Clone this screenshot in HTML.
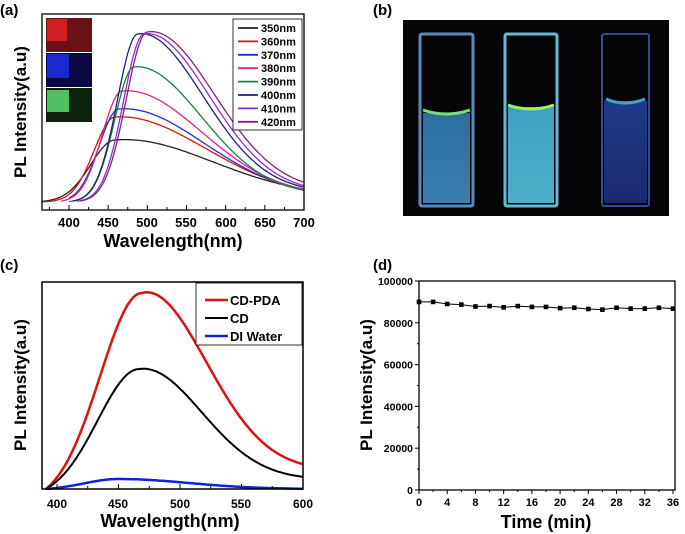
<!DOCTYPE html>
<html><head><meta charset="utf-8"><style>
html,body{margin:0;padding:0;background:#fff}
svg{display:block;font-family:"Liberation Sans",sans-serif;font-weight:bold}
</style></head><body>
<svg id="s" width="685" height="534" xmlns="http://www.w3.org/2000/svg">
<defs>
<linearGradient id="cv1" x1="0" y1="0" x2="0" y2="1"><stop offset="0" stop-color="#2c6f9e"/><stop offset="1" stop-color="#3a7fb0"/></linearGradient>
<linearGradient id="cv2" x1="0" y1="0" x2="0" y2="1"><stop offset="0" stop-color="#3ea0c0"/><stop offset="1" stop-color="#4fb0c8"/></linearGradient>
<linearGradient id="cv3" x1="0" y1="0" x2="0" y2="1"><stop offset="0" stop-color="#1d3a8a"/><stop offset="1" stop-color="#1a2a70"/></linearGradient>
</defs>
<text x="0" y="15" font-size="15">(a)</text>
<text x="373" y="15" font-size="15">(b)</text>
<text x="0" y="270" font-size="15">(c)</text>
<text x="373" y="270" font-size="15">(d)</text>

<g id="ga"></g>
<rect x="42" y="14" width="262" height="196" fill="none" stroke="#000" stroke-width="1.3"/>
<rect x="46" y="18" width="46" height="34" fill="#6a1018"/>
<rect x="47" y="19" width="20" height="22" fill="#d02020"/>
<rect x="46" y="53" width="46" height="34" fill="#0a0a40"/>
<rect x="47" y="54" width="22" height="24" fill="#1a2ad0"/>
<rect x="46" y="88" width="46" height="34" fill="#0c200c"/>
<rect x="47" y="90" width="22" height="22" fill="#50c060"/>
<rect x="233" y="19" width="69" height="111" fill="#fff" stroke="#000" stroke-width="0.8"/>
<g id="leg" font-size="11"></g>
<g font-size="13" text-anchor="middle">
<text x="69" y="227">400</text><text x="108" y="227">450</text><text x="147" y="227">500</text><text x="186" y="227">550</text><text x="226" y="227">600</text><text x="265" y="227">650</text><text x="304" y="227">700</text>
</g>
<text x="173" y="247" font-size="18" text-anchor="middle">Wavelength(nm)</text>
<text transform="translate(26,112) rotate(-90)" font-size="17" text-anchor="middle">PL Intensity(a.u)</text>

<rect x="403" y="20" width="266" height="196" fill="#050508"/>
<rect x="420" y="34" width="53" height="172" fill="none" stroke="#5a8ab8" stroke-width="3" rx="2"/>
<rect x="423" y="113" width="47" height="90" fill="url(#cv1)"/>
<path d="M423 110 Q446 118 470 110" stroke="#7be07a" stroke-width="3" fill="none"/>
<rect x="505" y="34" width="52" height="172" fill="none" stroke="#68b8d0" stroke-width="3" rx="2"/>
<rect x="508" y="107" width="46" height="96" fill="url(#cv2)"/>
<path d="M508 105 Q531 113 554 105" stroke="#9cf060" stroke-width="3" fill="none"/>
<rect x="602" y="34" width="47" height="172" fill="none" stroke="#3a4a90" stroke-width="2" rx="2"/>
<rect x="604" y="101" width="43" height="102" fill="url(#cv3)"/>
<path d="M606 99 Q625 107 645 99" stroke="#4aa0d0" stroke-width="3" fill="none"/>

<g id="gc"></g>
<rect x="42" y="282" width="261" height="207" fill="none" stroke="#000" stroke-width="1.5"/>
<rect x="196" y="283" width="106" height="62" fill="#fff" stroke="#000" stroke-width="0.8"/>
<line x1="205" y1="300" x2="228" y2="300" stroke="#e01010" stroke-width="2.5"/><text x="230" y="305" font-size="13">CD-PDA</text>
<line x1="205" y1="318" x2="228" y2="318" stroke="#000" stroke-width="2"/><text x="230" y="323" font-size="13">CD</text>
<line x1="205" y1="336" x2="228" y2="336" stroke="#1020e0" stroke-width="2.5"/><text x="230" y="341" font-size="13">DI Water</text>
<g font-size="12" text-anchor="middle">
<text x="57" y="508">400</text><text x="118" y="508">450</text><text x="180" y="508">500</text><text x="241" y="508">550</text><text x="303" y="508">600</text>
</g>
<text x="170" y="527" font-size="18" text-anchor="middle">Wavelength(nm)</text>
<text transform="translate(26,385) rotate(-90)" font-size="17" text-anchor="middle">PL Intensity(a.u)</text>

<g id="gd"></g>
<rect x="419" y="281" width="256" height="209" fill="none" stroke="#000" stroke-width="1.3"/>
<text transform="translate(372,385) rotate(-90)" font-size="17" text-anchor="middle">PL Intensity(a.u)</text>
<text x="546" y="528" font-size="18" text-anchor="middle">Time (min)</text>
</svg>
<script>
var NS="http://www.w3.org/2000/svg";
function el(p,t,a){var e=document.createElementNS(NS,t);for(var k in a)e.setAttribute(k,a[k]);document.getElementById(p).appendChild(e);return e;}
var ax=function(w){return 69+(w-400)*0.7833;};
var base=202;
var cur=[["#222",350,459,62,366,44,170,5],["#e01010",360,459,85,366,38,160,4],["#2030d0",370,464,93,400,36,150,5],["#e0208a",380,468,111,390,36,140,6],["#1a8040",390,483,135,400,35,120,7],["#1a2080",400,488,168,405,37,115,10],["#9030d0",410,496,168,410,37,115,10],["#802080",420,500,170,415,38,118,11]];
cur.forEach(function(c,i){
 var d="",sl=c[5],sr=c[6];
 for(var w=c[4];w<=700;w+=2){
  var s=w<c[2]?sl:sr;var z=(w-c[2])/s;
  var y=base-c[3]*Math.exp(-z*z) - (w>c[2]? c[7]*(1-Math.exp(-(w-c[2])/80)) :0);
  d+=(d?"L":"M")+ax(w).toFixed(1)+" "+y.toFixed(1);
 }
 el("ga","path",{d:d,fill:"none",stroke:c[0],"stroke-width":1.3});
 var ly=28+i*13.4;
 el("leg","line",{x1:238,y1:ly,x2:258,y2:ly,stroke:c[0],"stroke-width":1.8});
 var t=el("leg","text",{x:261,y:ly+4});t.textContent=c[1]+"nm";
});
for(var w=375;w<=700;w+=25){var x=ax(w);var L=(w%50==0)?5:3;el("ga","line",{x1:x,y1:210,x2:x,y2:210-L,stroke:"#000"});}
var cx=function(w){return 57+(w-400)*1.23;};
function cc(col,peak,pk,sl,sr,tail,wdt){var d="";var z0=(391-pk)/sl,g0=Math.exp(-z0*z0);for(var w=391;w<=600;w+=1){var s=w<pk?sl:sr;var z=(w-pk)/s;var g=Math.exp(-z*z);if(w<pk)g=(g-g0)/(1-g0);var y=489-peak*g-(w>pk?tail*(1-Math.exp(-(w-pk)/60)):0);d+=(d?"L":"M")+cx(w).toFixed(1)+" "+y.toFixed(1);}el("gc","path",{d:d,fill:"none",stroke:col,"stroke-width":wdt});}
cc("#e01010",196,469,48,72,20,2.5);
cc("#000",120,467,48,70,10,2);
cc("#1020e0",10,450,40,80,0,2.5);
for(var w=400;w<=600;w+=25){var x=cx(w);el("gc","line",{x1:x,y1:489,x2:x,y2:(w%50==0)?484:486,stroke:"#000"});}
var dx=function(t){return 419+t*(254/36);},dy=function(v){return 490-v*209/100000;};
var vals=[90000,90000,89000,88700,87800,88000,87400,88000,87600,87600,87000,87200,86600,86300,87200,86800,86800,87200,86800];
var d="";vals.forEach(function(v,i){var x=dx(i*2),y=dy(v);d+=(d?"L":"M")+x+" "+y;el("gd","rect",{x:x-2.3,y:y-2.3,width:4.6,height:4.6,fill:"#000"});});
el("gd","path",{d:d,fill:"none",stroke:"#000","stroke-width":1});
for(var t=0;t<=36;t+=2){var x=dx(t);el("gd","line",{x1:x,y1:490,x2:x,y2:490+(t%4==0?4:2),stroke:"#000"});if(t%4==0){var e=el("gd","text",{x:x,y:506,"font-size":11,"text-anchor":"middle"});e.textContent=t;}}
for(var v=0;v<=100000;v+=10000){var y=dy(v);el("gd","line",{x1:419,y1:y,x2:419-(v%20000==0?4:2),y2:y,stroke:"#000"});if(v%20000==0){var e=el("gd","text",{x:413,y:y+4,"font-size":10.5,"text-anchor":"end"});e.textContent=v;}}
</script>
</body></html>
